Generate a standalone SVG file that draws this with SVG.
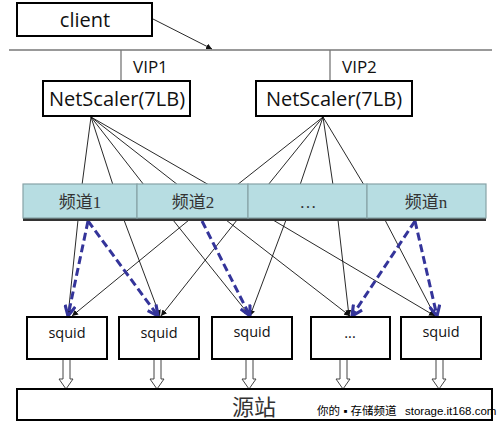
<svg xmlns="http://www.w3.org/2000/svg" width="500" height="422" viewBox="0 0 500 422">
<defs>
<style>
.box{fill:#fff;stroke:#000;stroke-width:2}
.sans{font-family:"Open Sans","Noto Sans",sans-serif;fill:#111}
.ser{font-family:"Liberation Serif","Noto Sans CJK SC",serif;fill:#333}
.gray{stroke:#777;stroke-width:1.3;fill:none}
.thin{stroke:#111;stroke-width:0.9;fill:none}
.arr{stroke:#111;stroke-width:0.9;fill:none;marker-end:url(#ah)}
.blue{stroke:#34349a;stroke-width:3;stroke-dasharray:8 4;fill:none;marker-end:url(#bh)}
.cell{fill:#b7dde2;stroke:#87a3a7;stroke-width:1.2}
.hollow{fill:#fff;stroke:#444;stroke-width:1}
</style>
<marker id="ah" viewBox="0 0 10 10" refX="10" refY="5" markerWidth="6" markerHeight="6" markerUnits="userSpaceOnUse" orient="auto">
<path d="M0,0 L10,5 L0,10 z" fill="#111"/>
</marker>
<marker id="bh" viewBox="0 0 10 10" refX="9" refY="5" markerWidth="13" markerHeight="13" markerUnits="userSpaceOnUse" orient="auto">
<path d="M1,1 L9,5 L1,9" fill="none" stroke="#34349a" stroke-width="2.4"/>
</marker>
</defs>
<rect width="500" height="422" fill="#fff"/>

<g id="connectors">
<line class="gray" x1="9" y1="50" x2="492" y2="50"/>
<line class="gray" x1="121" y1="50" x2="121" y2="81"/>
<line class="gray" x1="330" y1="50" x2="330" y2="81"/>
<line class="arr" x1="153" y1="19" x2="212" y2="49"/>
<line class="thin" x1="91" y1="117" x2="82" y2="185"/>
<line class="thin" x1="91" y1="117" x2="113" y2="185"/>
<line class="thin" x1="91" y1="117" x2="144" y2="185"/>
<line class="thin" x1="91" y1="117" x2="178" y2="185"/>
<line class="thin" x1="91" y1="117" x2="209" y2="185"/>
<line class="thin" x1="323" y1="117" x2="237" y2="185"/>
<line class="thin" x1="323" y1="117" x2="268" y2="185"/>
<line class="thin" x1="323" y1="117" x2="300" y2="185"/>
<line class="thin" x1="323" y1="117" x2="333" y2="185"/>
<line class="thin" x1="323" y1="117" x2="364" y2="185"/>
<line class="arr" x1="78" y1="220" x2="68" y2="316"/>
<line class="arr" x1="124" y1="220" x2="160" y2="316"/>
<line class="arr" x1="173" y1="220" x2="250" y2="316"/>
<line class="arr" x1="189" y1="220" x2="72" y2="316"/>
<line class="arr" x1="226" y1="220" x2="350" y2="316"/>
<line class="arr" x1="237" y1="220" x2="161" y2="316"/>
<line class="arr" x1="273" y1="220" x2="435" y2="316"/>
<line class="arr" x1="286" y1="220" x2="250" y2="316"/>
<line class="arr" x1="338" y1="220" x2="349" y2="316"/>
<line class="arr" x1="385" y1="220" x2="435" y2="316"/>
<line class="blue" x1="88" y1="221" x2="68" y2="316"/>
<line class="blue" x1="88" y1="221" x2="158" y2="316"/>
<line class="blue" x1="202" y1="221" x2="250" y2="316"/>
<line class="blue" x1="415" y1="221" x2="352" y2="316"/>
<line class="blue" x1="415" y1="221" x2="437" y2="316"/>
<path class="hollow" d="M63,359 V379 H59 L66,389 L73,379 H70 V359 z"/>
<path class="hollow" d="M154,359 V379 H150 L157,389 L164,379 H161 V359 z"/>
<path class="hollow" d="M246,359 V379 H242 L249,389 L256,379 H253 V359 z"/>
<path class="hollow" d="M340,359 V379 H336 L343,389 L350,379 H347 V359 z"/>
<path class="hollow" d="M436,359 V379 H432 L439,389 L446,379 H443 V359 z"/>
</g>

<g id="client">
<rect class="box" x="17" y="3" width="135" height="33"/>
<text class="sans" x="85" y="27" font-size="20" text-anchor="middle">client</text>
</g>
<text class="sans" x="133" y="73" font-size="17">VIP1</text>
<text class="sans" x="342" y="73" font-size="17">VIP2</text>

<g id="netscaler1">
<rect class="box" x="43" y="81" width="147" height="35"/>
<text class="sans" x="117" y="106" font-size="20" text-anchor="middle">NetScaler(7LB)</text>
</g>
<g id="netscaler2">
<rect class="box" x="256" y="81" width="156" height="35"/>
<text class="sans" x="334" y="106" font-size="20" text-anchor="middle">NetScaler(7LB)</text>
</g>

<g id="channels">
<rect x="23" y="186" width="463" height="35" fill="#333"/>
<rect class="cell" x="23" y="184" width="114" height="34"/>
<rect class="cell" x="137" y="184" width="111" height="34"/>
<rect class="cell" x="248" y="184" width="119" height="34"/>
<rect class="cell" x="367" y="184" width="119" height="34"/>
<text class="ser" x="80" y="208" font-size="17" text-anchor="middle">频道1</text>
<text class="ser" x="193" y="208" font-size="17" text-anchor="middle">频道2</text>
<text class="ser" x="308" y="208" font-size="17" text-anchor="middle">…</text>
<text class="ser" x="426" y="208" font-size="17" text-anchor="middle">频道n</text>
</g>

<g id="squid1"><rect class="box" x="27" y="317" width="80" height="42"/><text class="sans" x="67" y="338" font-size="14.5" text-anchor="middle">squid</text></g>
<g id="squid2"><rect class="box" x="119" y="317" width="80" height="42"/><text class="sans" x="159" y="338" font-size="14.5" text-anchor="middle">squid</text></g>
<g id="squid3"><rect class="box" x="212" y="317" width="80" height="42"/><text class="sans" x="252" y="337" font-size="14.5" text-anchor="middle">squid</text></g>
<g id="squid4"><rect class="box" x="311" y="317" width="79" height="42"/><text class="sans" x="350" y="338" font-size="14.5" text-anchor="middle">...</text></g>
<g id="squid5"><rect class="box" x="401" y="317" width="80" height="42"/><text class="sans" x="441" y="337" font-size="14.5" text-anchor="middle">squid</text></g>

<g id="origin">
<rect class="box" x="17" y="389" width="475" height="31"/>
<text class="ser" x="254" y="415" font-size="22" text-anchor="middle" fill="#222">源站</text>
<text x="317" y="415" font-size="11.5" font-family="'Liberation Sans','Noto Sans CJK SC',sans-serif" fill="#000">你的 ▪ 存储频道 <tspan x="405">storage.it168.com</tspan></text>
</g>
</svg>
